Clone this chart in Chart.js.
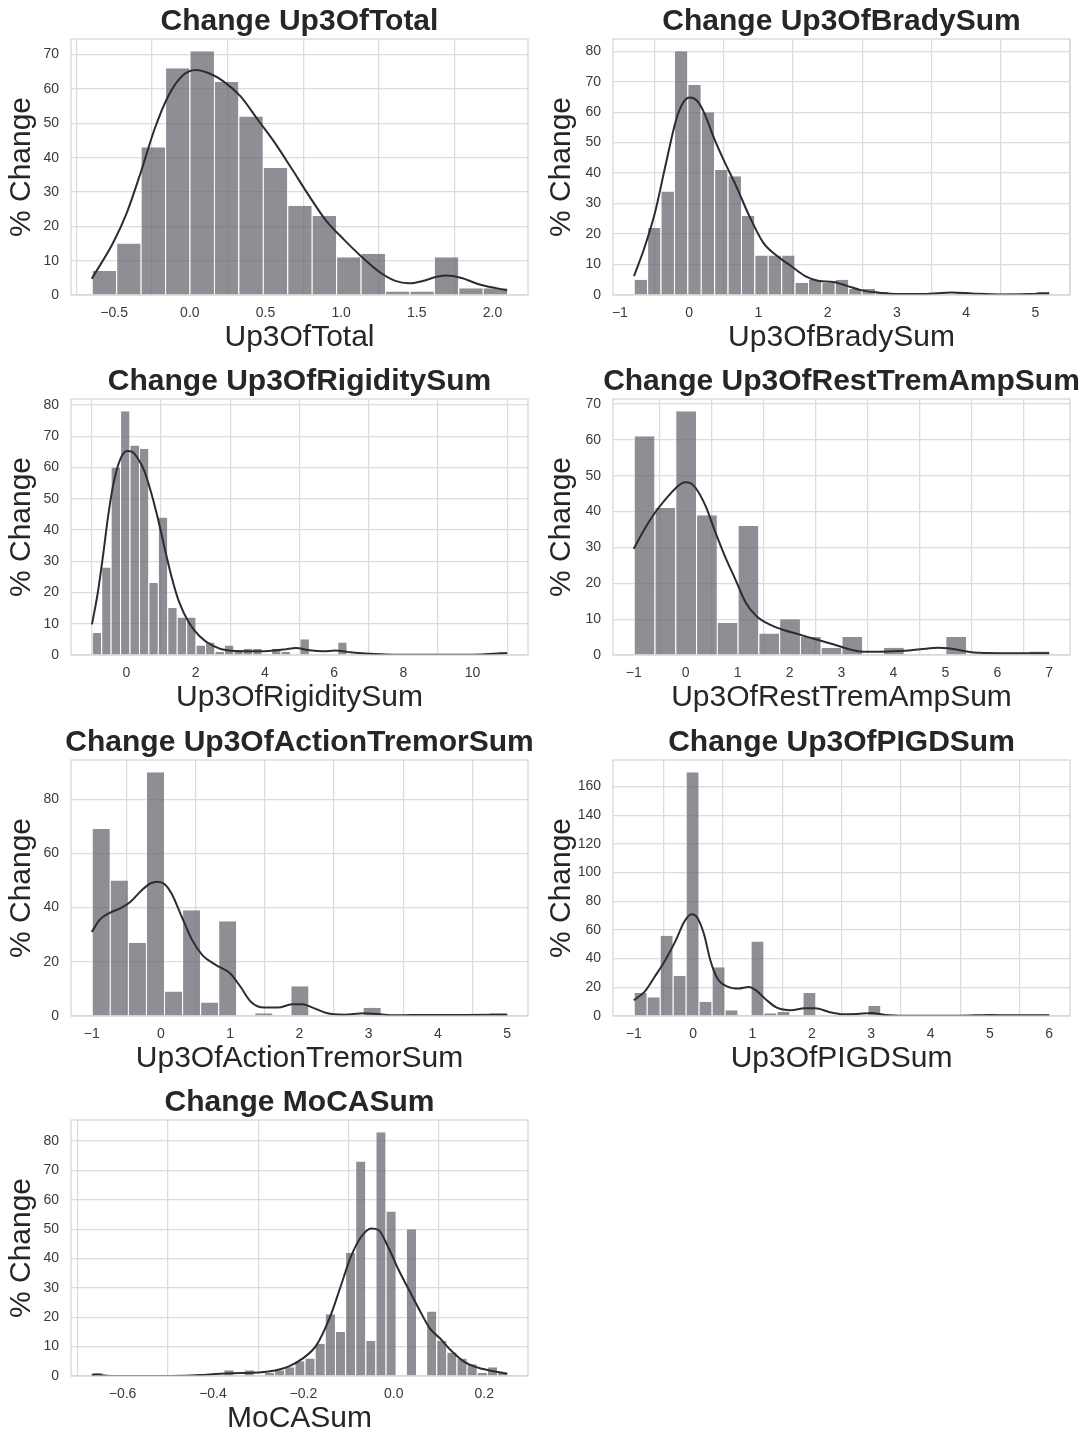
<!DOCTYPE html>
<html>
<head>
<meta charset="utf-8">
<script src="https://cdn.jsdelivr.net/npm/chart.js@4.4.0/dist/chart.umd.min.js"></script>
<style>
    body { margin: 0; background: #fff; overflow: hidden; width: 1087px; height: 1434px; position: relative; }
    .panel { position: absolute; }
</style>
</head>
<body>
<div class="panel" style="left:0px;top:0px"><canvas id="total-canvas" width="540" height="360"></canvas></div>
<div class="panel" style="left:540px;top:0px"><canvas id="brady-canvas" width="547" height="360"></canvas></div>
<div class="panel" style="left:0px;top:360px"><canvas id="rigidity-canvas" width="540" height="360"></canvas></div>
<div class="panel" style="left:540px;top:360px"><canvas id="resttrem-canvas" width="547" height="360"></canvas></div>
<div class="panel" style="left:0px;top:721px"><canvas id="actiontrem-canvas" width="540" height="360"></canvas></div>
<div class="panel" style="left:540px;top:721px"><canvas id="pigd-canvas" width="547" height="360"></canvas></div>
<div class="panel" style="left:0px;top:1081px"><canvas id="moca-canvas" width="540" height="360"></canvas></div>

<script>
// bins = [first edge, bin width]; counts; kde = points

// Up3OfTotal
const totalCounts = [7, 15, 43, 66, 71, 62, 52, 37, 26, 23, 11, 12, 1, 1, 11, 2, 2];
const totalBins = [-0.648, 0.1615];
const totalKdeX = [-0.648, -0.507, -0.416, -0.325, -0.234, -0.143, -0.052, 0.039, 0.13, 0.22, 0.334, 0.448, 0.562, 0.676, 0.789, 0.903, 1.017, 1.131, 1.244, 1.358, 1.449, 1.54, 1.631, 1.7, 1.79, 1.927, 2.097];
const totalKdeY = [4.75, 15.2, 24, 35.6, 48.2, 57.9, 63.7, 65.5, 64.5, 62.3, 57.9, 51.1, 44.3, 36.6, 28.8, 21.5, 16.2, 11.3, 7, 4.1, 3.4, 4.1, 5.3, 5.7, 5, 2.9, 1.4];
const totalXTicks = [-0.5, 0, 0.5, 1, 1.5, 2];
const totalXLabels = ['\u22120.5', '0.0', '0.5', '1.0', '1.5', '2.0'];
const totalYTicks = [0, 10, 20, 30, 40, 50, 60, 70];

// Up3OfBradySum
const bradyCounts = [5, 22, 34, 80, 69, 60, 41, 39, 26, 13, 13, 13, 4, 5, 4, 5, 2, 2, 1, 0, 0, 0, 0, 0, 1, 0, 0, 0, 0, 0, 1];
const bradyBins = [-0.8, 0.19355];
const bradyKdeX = [-0.797, -0.645, -0.494, -0.343, -0.192, -0.091, 0.01, 0.111, 0.212, 0.363, 0.514, 0.666, 0.867, 1.069, 1.271, 1.472, 1.674, 1.876, 2.078, 2.28, 2.48, 2.73, 3.03, 3.39, 3.79, 4.09, 4.49, 4.89, 5.2];
const bradyKdeY = [6.2, 15.6, 27, 42.4, 57.2, 63, 64.8, 63.8, 60, 51.2, 43.5, 36.4, 26, 17.2, 12.8, 9.5, 6.2, 4.6, 4.3, 3, 1.6, 0.8, 0.3, 0.3, 0.8, 0.5, 0.2, 0.3, 0.6];
const bradyXTicks = [-1, 0, 1, 2, 3, 4, 5];
const bradyXLabels = ['\u22121', '0', '1', '2', '3', '4', '5'];
const bradyYTicks = [0, 10, 20, 30, 40, 50, 60, 70, 80];

// Up3OfRigiditySum
const rigidityCounts = [7, 28, 60, 78, 67, 66, 23, 44, 15, 12, 12, 3, 4, 1, 3, 1, 2, 2, 0, 2, 1, 0, 5, 0, 0, 0, 4,
    0, 0, 0, 0, 0, 0, 0, 0, 0, 0, 0, 0, 0, 0, 0, 0, 1];
const rigidityBins = [-1, 0.27273];
const rigidityKdeX = [-0.994, -0.825, -0.676, -0.527, -0.378, -0.179, 0.02, 0.169, 0.318, 0.517, 0.716, 0.915, 1.113, 1.312, 1.511, 1.809, 2.107, 2.505, 2.9, 3.5, 4.1, 4.6, 4.89, 5.29, 5.69, 6.03, 6.38, 6.88, 7.48, 8.77, 10.26, 11.0];
const rigidityKdeY = [9.8, 20, 31.7, 44.5, 54.6, 62.6, 65.3, 65, 63.1, 58.9, 51.9, 43.4, 33.8, 24.7, 17.3, 10.3, 6.1, 2.9, 1.5, 1.2, 1.3, 1.8, 2.2, 1.5, 1.2, 1.4, 1.0, 0.5, 0.2, 0.1, 0.2, 0.6];
const rigidityXTicks = [0, 2, 4, 6, 8, 10];
const rigidityXLabels = ['0', '2', '4', '6', '8', '10'];
const rigidityYTicks = [0, 10, 20, 30, 40, 50, 60, 70, 80];

// Up3OfRestTremAmpSum
const restTremCounts = [61, 41, 68, 39, 9, 36, 6, 10, 5, 2, 5, 0, 2, 0, 0, 5, 0, 0, 0, 1];
const restTremBins = [-1, 0.4];
const restTremKdeX = [-1, -0.798, -0.596, -0.39, -0.188, -0.02, 0.08, 0.215, 0.384, 0.552, 0.754, 0.956, 1.157, 1.36, 1.63, 1.9, 2.17, 2.5, 2.84, 3.1, 3.37, 3.71, 4.11, 4.52, 4.86, 5.05, 5.33, 5.66, 6.07, 6.6, 7.0];
const restTremKdeY = [29.6, 35, 39.6, 43.4, 46.6, 48.2, 48, 46.1, 41.5, 35, 27.6, 21.1, 14.6, 10.9, 8.4, 6.9, 5.8, 4.4, 3, 1.8, 1.0, 0.9, 1.1, 1.6, 2.0, 1.9, 1.2, 0.6, 0.5, 0.5, 0.5];
const restTremXTicks = [-1, 0, 1, 2, 3, 4, 5, 6, 7];
const restTremXLabels = ['\u22121', '0', '1', '2', '3', '4', '5', '6', '7'];
const restTremYTicks = [0, 10, 20, 30, 40, 50, 60, 70];

// Up3OfActionTremorSum
const actionTremCounts = [69, 50, 27, 90, 9, 39, 5, 35, 0, 1, 0, 11, 0, 0, 0, 3, 0, 0, 0, 0, 0, 0, 1];
const actionTremBins = [-1, 0.26087];
const actionTremKdeX = [-1, -0.89, -0.74, -0.59, -0.44, -0.3, -0.15, -0.05, 0.05, 0.15, 0.3, 0.45, 0.6, 0.8, 1.0, 1.15, 1.3, 1.49, 1.69, 1.89, 2.04, 2.19, 2.39, 2.64, 2.93, 3.13, 3.38, 3.88, 4.37, 5.0];
const actionTremKdeY = [31, 35.4, 38.1, 39.7, 42.2, 45.9, 49, 49.6, 48.7, 45.3, 36.6, 28, 22.4, 18.7, 15.7, 10.7, 5.2, 3.1, 3.1, 4.3, 4.3, 3.1, 1.1, 0.5, 1.0, 0.7, 0.25, 0.4, 0.4, 0.5];
const actionTremXTicks = [-1, 0, 1, 2, 3, 4, 5];
const actionTremXLabels = ['\u22121', '0', '1', '2', '3', '4', '5'];
const actionTremYTicks = [0, 20, 40, 60, 80];

// Up3OfPIGDSum
const pigdCounts = [16, 13, 56, 28, 170, 10, 34, 4, 0, 52, 2, 3, 0, 16, 0, 0, 0, 0, 7, 0, 0, 0, 0, 0, 0, 0, 0, 1, 0, 0, 0, 1];
const pigdBins = [-1, 0.21875];
const pigdKdeX = [-1, -0.82, -0.65, -0.47, -0.29, -0.15, -0.03, 0.06, 0.18, 0.29, 0.41, 0.59, 0.76, 0.94, 1.06, 1.24, 1.41, 1.65, 1.88, 2.06, 2.29, 2.53, 2.76, 3.0, 3.24, 3.59, 4.18, 4.76, 5.0, 5.35, 6.0];
const pigdKdeY = [11, 16.8, 27.2, 38.9, 52.9, 65.7, 71, 69.2, 57.5, 38.9, 26.1, 20.3, 19.1, 20.3, 17.9, 11, 5.8, 4, 5.4, 5.4, 2.8, 1.2, 1.4, 2.1, 0.7, 0.2, 0.2, 0.5, 0.7, 0.5, 0.5];
const pigdXTicks = [-1, 0, 1, 2, 3, 4, 5, 6];
const pigdXLabels = ['\u22121', '0', '1', '2', '3', '4', '5', '6'];
const pigdYTicks = [0, 20, 40, 60, 80, 100, 120, 140, 160];

// MoCASum
const mocaCounts = [1, 0, 0, 0, 0, 0, 0, 0, 0, 0, 0, 0, 0, 2, 0, 2, 0, 1, 2, 3, 5, 6, 11, 21, 15, 42, 73, 12, 83, 56, 0, 50, 0, 22, 12, 8, 6, 4, 1, 3, 1];
const mocaBins = [-0.668, 0.02241];
const mocaKdeX = [-0.668, -0.655, -0.636, -0.567, -0.491, -0.43, -0.385, -0.339, -0.293, -0.263, -0.232, -0.202, -0.171, -0.141, -0.118, -0.095, -0.072, -0.05, -0.034, -0.011, 0.011, 0.034, 0.057, 0.08, 0.103, 0.126, 0.156, 0.187, 0.217, 0.251];
const mocaKdeY = [0.3, 0.45, 0.1, 0, 0, 0.3, 0.8, 1.0, 1.25, 1.9, 3.3, 5.9, 10.5, 20.1, 30.3, 40.6, 47.4, 50.2, 49.7, 43.4, 36, 29.2, 22.4, 16.1, 12.7, 8.75, 4.8, 2.8, 1.7, 0.8];
const mocaXTicks = [-0.6, -0.4, -0.2, 0, 0.2];
const mocaXLabels = ['\u22120.6', '\u22120.4', '\u22120.2', '0.0', '0.2'];
const mocaYTicks = [0, 10, 20, 30, 40, 50, 60, 70, 80];


Chart.defaults.font.family = '"Liberation Sans", Arial, Helvetica, sans-serif';
Chart.defaults.color = '#333333';

// panel title centred over the axes, and a light frame round the axes
const panelDecor = {
    id: 'panelDecor',
    afterDatasetsDraw(chart) {
        const a = chart.chartArea;
        const ctx = chart.ctx;
        ctx.save();
        ctx.strokeStyle = '#d6d6d6';
        ctx.lineWidth = 1.25;
        ctx.strokeRect(a.left, a.top, a.right - a.left, a.bottom - a.top);
        ctx.restore();
    },
    afterDraw(chart, args, opts) {
        const a = chart.chartArea;
        const ctx = chart.ctx;
        ctx.save();
        ctx.font = 'bold 30px "Liberation Sans", Arial, sans-serif';
        ctx.fillStyle = '#262626';
        ctx.textAlign = 'center';
        ctx.textBaseline = 'middle';
        ctx.fillText(opts.text, (a.left + a.right) / 2, 22);
        ctx.restore();
    }
};

function drawHistogram(id, title, xName, counts, bins, kdeX, kdeY, xTicks, xLabels, yTicks, axisWidth, padRight) {
    let lo = bins[0];
    let hi = bins[0] + counts.length * bins[1];
    let margin = (hi - lo) * 0.05;
    let ctx = document.getElementById(id).getContext('2d');
    return new Chart(ctx, {
        type: 'bar',
        data: {
            datasets: [{
                type: 'line',
                data: kdeX.map((x, i) => ({x: x, y: kdeY[i]})),
                borderColor: '#2c2c31',
                borderWidth: 2,
                pointRadius: 0,
                cubicInterpolationMode: 'monotone',
                fill: false,
                order: 0
            }, {
                type: 'bar',
                data: counts.map((c, i) => ({x: lo + (i + 0.5) * bins[1], y: c})),
                backgroundColor: 'rgba(104, 105, 112, 0.75)',
                borderColor: '#ffffff',
                borderWidth: {left: 1, right: 0, top: 0, bottom: 0},
                borderSkipped: false,
                inflateAmount: 0,
                barPercentage: 1,
                categoryPercentage: 1,
                order: 1
            }]
        },
        options: {
            responsive: false,
            animation: false,
            layout: {padding: {top: 39, left: 0, right: padRight, bottom: 0}},
            plugins: {
                legend: {display: false},
                tooltip: {enabled: false},
                panelDecor: {text: title}
            },
            scales: {
                x: {
                    type: 'linear',
                    min: lo - margin,
                    max: hi + margin,
                    offset: false,
                    afterBuildTicks: s => { s.ticks = xTicks.map(v => ({value: v})); },
                    afterFit: s => { s.height = 65; },
                    ticks: {
                        autoSkip: false,
                        maxRotation: 0,
                        padding: 10,
                        color: '#3a3a3a',
                        font: {size: 14},
                        callback: (v, i) => xLabels[i]
                    },
                    grid: {color: '#dcdcdc', lineWidth: 1.25, drawTicks: false},
                    border: {display: false},
                    title: {
                        display: true,
                        text: xName,
                        color: '#262626',
                        font: {size: 30, lineHeight: 1.2},
                        padding: {top: 0, bottom: 4.5}
                    }
                },
                y: {
                    type: 'linear',
                    min: 0,
                    max: Math.max(...counts) * 1.05,
                    afterBuildTicks: s => { s.ticks = yTicks.map(v => ({value: v})); },
                    afterFit: s => { s.width = axisWidth; },
                    ticks: {
                        autoSkip: false,
                        padding: 12,
                        color: '#3a3a3a',
                        font: {size: 14},
                        callback: v => String(v)
                    },
                    grid: {color: '#dcdcdc', lineWidth: 1.25, drawTicks: false},
                    border: {display: false},
                    title: {
                        display: true,
                        text: '% Change',
                        color: '#262626',
                        font: {size: 30, lineHeight: 1.2},
                        padding: {top: 4, bottom: 0}
                    }
                }
            }
        },
        plugins: [panelDecor]
    });
}

drawHistogram('total-canvas', 'Change Up3OfTotal', 'Up3OfTotal', totalCounts, totalBins, totalKdeX, totalKdeY, totalXTicks, totalXLabels, totalYTicks, 71, 12);
drawHistogram('brady-canvas', 'Change Up3OfBradySum', 'Up3OfBradySum', bradyCounts, bradyBins, bradyKdeX, bradyKdeY, bradyXTicks, bradyXLabels, bradyYTicks, 73, 17);
drawHistogram('rigidity-canvas', 'Change Up3OfRigiditySum', 'Up3OfRigiditySum', rigidityCounts, rigidityBins, rigidityKdeX, rigidityKdeY, rigidityXTicks, rigidityXLabels, rigidityYTicks, 71, 12);
drawHistogram('resttrem-canvas', 'Change Up3OfRestTremAmpSum', 'Up3OfRestTremAmpSum', restTremCounts, restTremBins, restTremKdeX, restTremKdeY, restTremXTicks, restTremXLabels, restTremYTicks, 73, 17);
drawHistogram('actiontrem-canvas', 'Change Up3OfActionTremorSum', 'Up3OfActionTremorSum', actionTremCounts, actionTremBins, actionTremKdeX, actionTremKdeY, actionTremXTicks, actionTremXLabels, actionTremYTicks, 71, 12);
drawHistogram('pigd-canvas', 'Change Up3OfPIGDSum', 'Up3OfPIGDSum', pigdCounts, pigdBins, pigdKdeX, pigdKdeY, pigdXTicks, pigdXLabels, pigdYTicks, 73, 17);
drawHistogram('moca-canvas', 'Change MoCASum', 'MoCASum', mocaCounts, mocaBins, mocaKdeX, mocaKdeY, mocaXTicks, mocaXLabels, mocaYTicks, 71, 12);
</script>
</body>
</html>
